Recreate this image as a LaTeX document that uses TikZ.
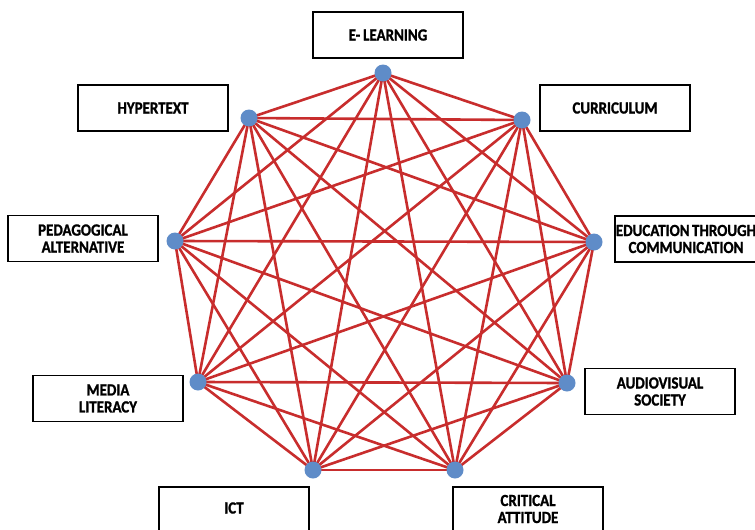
\documentclass[tikz,border=0pt]{standalone}
\usepackage{fontspec}
\setmainfont{Carlito}
\newfontfamily\lblfont{Carlito}[FakeStretch=0.88,FakeBold=1.2]
\begin{document}
\begin{tikzpicture}[x=1pt,y=-1pt,
  lblfnt/.style={font=\lblfont\fontsize{17}{17}\selectfont\bfseries},
  lbl/.style={draw=black,line width=1.2pt,minimum width=150pt,minimum height=46pt,inner sep=0pt,align=center,lblfnt},
  txt/.style={align=center,inner sep=0pt,lblfnt},
  edge/.style={draw={rgb,255:red,200;green,45;blue,45},line width=2.6pt},
  dot/.style={circle,fill={rgb,255:red,95;green,140;blue,200},minimum size=17pt,inner sep=0pt}]
\useasboundingbox (0,0) rectangle (755,530);
\fill[white] (0,0) rectangle (755,530);
% vertices
\coordinate (p1) at (383,73);
\coordinate (p2) at (522,120);
\coordinate (p3) at (594,242);
\coordinate (p4) at (567,383);
\coordinate (p5) at (455,470);
\coordinate (p6) at (313,470);
\coordinate (p7) at (198,382);
\coordinate (p8) at (175,241);
\coordinate (p9) at (249,118);
\foreach \a in {1,...,9}{
  \foreach \b in {1,...,9}{
    \ifnum\a<\b \draw[edge] (p\a) -- (p\b); \fi
  }
}
\foreach \a in {1,...,9}{ \node[dot] (d\a) at (p\a) {}; }
% labels
\node[lbl] (l1) at (388,35) {E-\,LEARNING};
\node[lbl] (l9) at (153,108) {HYPERTEXT};
\node[lbl] (l2) at (615,108) {CURRICULUM};
\node[lbl] (l8) at (83,238.5) {PEDAGOGICAL\\ALTERNATIVE};
\node[draw=black,line width=1.2pt,minimum width=150pt,minimum height=46pt] (l3) at (690,239) {};
\node[txt] (t3) at (686,239) {EDUCATION\hspace{2.5pt}THROUGH\\COMMUNICATION};
\node[lbl] (l4) at (660,391.5) {AUDIOVISUAL\\SOCIETY};
\node[lbl] (l7) at (108,398.5) {MEDIA\\LITERACY};
\node[draw=black,line width=1.2pt,minimum width=150pt,minimum height=50pt] (l6) at (234,512) {};
\node[txt] (t6) at (234,508) {ICT};
\node[draw=black,line width=1.2pt,minimum width=150pt,minimum height=50pt] (l5) at (528,512) {};
\node[txt] (t5) at (528,509) {CRITICAL\\ATTITUDE};
\end{tikzpicture}
\end{document}
